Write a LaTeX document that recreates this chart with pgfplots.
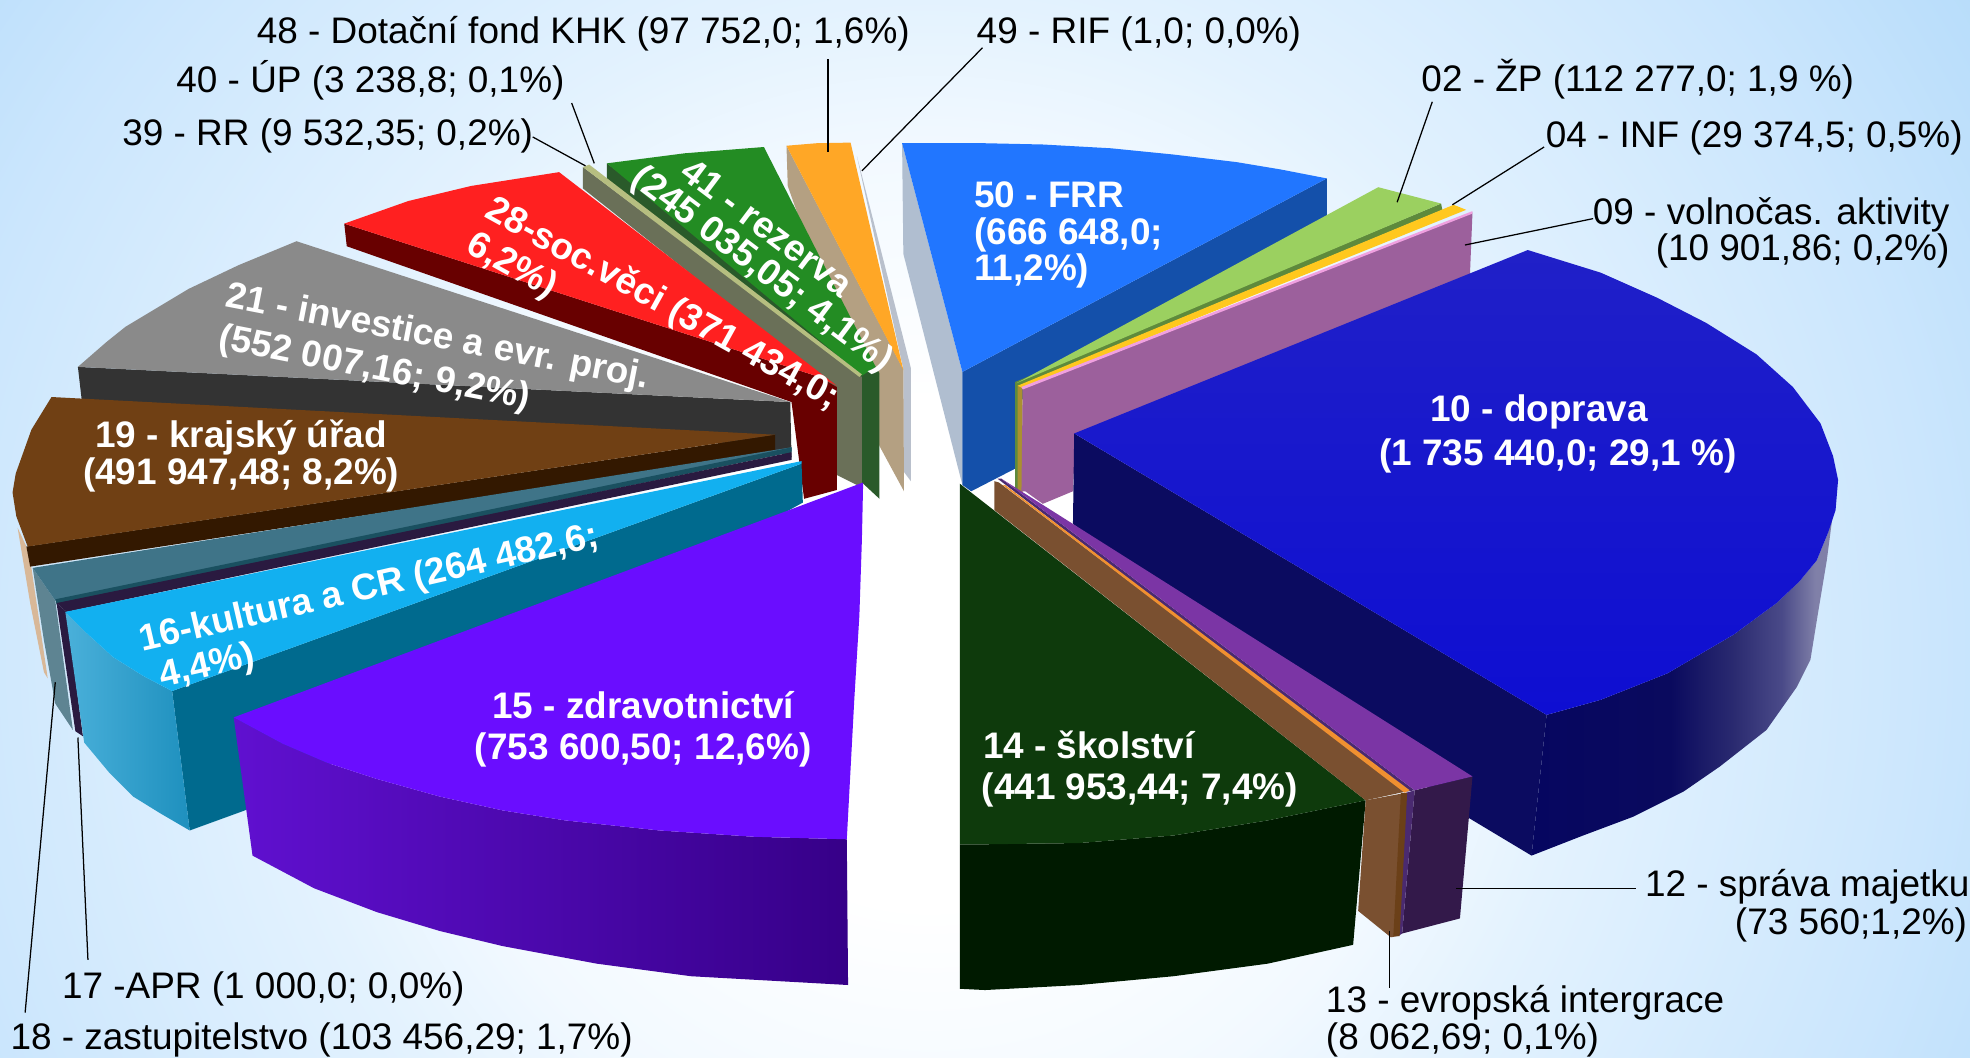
\documentclass[border=0pt]{standalone}
\usepackage{pgfplots}
\pgfplotsset{compat=1.18}
\usepackage{fontspec}
\setmainfont{Liberation Sans}
\definecolor{bga}{HTML}{FFFFFF}
\definecolor{bgb}{HTML}{F2F9FF}
\definecolor{bgc}{HTML}{E3F2FE}
\definecolor{bgd}{HTML}{CBE6FD}
\definecolor{bge}{HTML}{B6DCFA}
\pgfdeclareradialshading{bgsh}{\pgfpoint{0bp}{0bp}}{color(0bp)=(bga); color(5bp)=(bga); color(10bp)=(bgb); color(13bp)=(bgc); color(20bp)=(bgd); color(25bp)=(bge); color(50bp)=(bge)}
\definecolor{wa}{HTML}{060660}
\definecolor{wb}{HTML}{0A0A5E}
\definecolor{wc}{HTML}{2A2A70}
\definecolor{wd}{HTML}{4A4A88}
\definecolor{we}{HTML}{8080A8}
\pgfdeclarehorizontalshading{wallsh}{100bp}{color(0bp)=(wa); color(25bp)=(wa); color(47.8bp)=(wb); color(58bp)=(wc); color(66bp)=(wd); color(71.5bp)=(we); color(100bp)=(we)}
\definecolor{dtop}{HTML}{2020C8}
\definecolor{dbot}{HTML}{0E0ED2}
\newcommand{\pg}[2]{\definecolor{c#1}{HTML}{#1}\addplot[fill=c#1,draw=none,forget plot] coordinates {#2} --cycle;}
\newcommand{\pgs}[4]{\definecolor{c#1}{HTML}{#1}\definecolor{c#2}{HTML}{#2}\definecolor{c#3}{HTML}{#3}\addplot[left color=c#1,middle color=c#2,right color=c#3,draw=none,forget plot] coordinates {#4} --cycle;}
\newcommand{\ld}[1]{\addplot[black,line width=0.5pt,forget plot] coordinates {#1};}
\newcommand{\fn}{\fontsize{14.7}{17}\selectfont}
\newcommand{\fb}{\fontsize{14.7}{17}\selectfont\bfseries}
\newcommand{\bl}[3]{\node[anchor=west,inner sep=0pt,font=\fn] at (axis cs:#1,#2) {#3};}
\newcommand{\br}[3]{\node[anchor=east,inner sep=0pt,font=\fn] at (axis cs:#1,#2) {#3};}
\newcommand{\wl}[3]{\node[anchor=west,inner sep=0pt,font=\fb,text=white] at (axis cs:#1,#2) {#3};}
\newcommand{\wc}[4]{\node[anchor=center,inner sep=0pt,font=\fb,text=white,rotate=#4] at (axis cs:#1,#2) {#3};}
\begin{document}
\begin{tikzpicture}
\begin{scope}
\clip (0,0) rectangle (784pt,421pt);
\path[shading=bgsh] (370pt,161pt) circle (500pt);
\end{scope}
\begin{axis}[at={(0,0)},anchor=south west,scale only axis,width=784pt,height=421pt,
 xmin=0,xmax=1568,ymin=0,ymax=842,y dir=reverse,hide axis,clip=false]
% 49 RIF and 48 walls
\pg{B9C0CC}{(682,124)(725,293)(725,383)(719,375)(719,294)}
\pg{B4A082}{(626,116)(719,294)(719.5,391)(700,355)(627,148)}
\pg{FFA726}{(626,116)(650,114)(677,113.5)(719,294.5)}
% 41
\pg{2A5A2A}{(483,130)(697,292)(700,297)(700,397)(686,384)(686,310)(483,145)}
\pg{238C23}{(483,130)(545,122)(608,117)(697,292)(686,299)}
% 40 / 39
\pg{6A7058}{(464,133)(686,300)(686,388)(666,378)(666,310)(464,150)}
\pg{B6BE80}{(464,133)(469,131)(686,298)(684,300)}
% 28
\pg{680000}{(274,178)(652,300)(666,308)(666,390)(640,397)(630,320)(276,196)}
\pg{FF2020}{(274,178)(325,160)(375,148)(445,137)(666,307)(652,300)}
% 21
\pg{333333}{(62,292)(629,320)(630,364)(610,355)(65,318)}
\pg{8A8A8A}{(236,192)(190,211)(150,230)(125,245)(100,260)(85,272)(62,292)(629,320)}
% 19
\pg{D8B898}{(14,420)(21,435)(25,452)(38,540)(35,535)(24,480)}
\pg{331800}{(21,435)(617,346)(617,360)(24,451)}
\pg{704014}{(41,316)(25,342)(12.5,377)(10,392)(13,411)(22,435)(617,346)}
% 18
\pg{5E8492}{(26,452)(44,478)(58,581)(44,560)(35,510)}
\pg{3F7488}{(26,452)(44,478)(630,359)(630,356)}
% 17
\pg{1A5060}{(44,477)(630,356)(630,360)(45,481)}
\pg{2A1A40}{(45,480)(630,360)(630,366)(53,487)}
\pg{2A1A40}{(45,480)(53,487)(66,586)(60,582)}
% 16
\pg{006A8E}{(137,550)(638,369)(639,400)(195,645)(151,661)}
\pgs{4AB0DA}{2EA2CF}{1E90BE}{(52,487)(69,504)(90,523)(114,538)(137,550)(151,661)(127,647)(106,634)(87,615)(67,591)}
\pg{12B0F0}{(52,487)(69,504)(90,523)(114,538)(137,550)(638,369)(638,367)}
% 15
\pgs{6010D0}{4500A8}{360088}{(186,571)(225,592)(260,607)(300,620)(350,634)(400,645)(450,653)(525,661)(600,666)(674,668)(675,784)(550,777)(475,767)(400,753)(350,741)(300,726)(250,707)(201,681)}
\pg{6A0DFF}{(186,571)(687,384)(686,430)(684,490)(680,556)(674,668)(600,666)(525,661)(450,653)(400,645)(350,634)(300,620)(260,607)(225,592)}
% 50
\pg{B0BED0}{(718,114)(766,296)(766,386)(719,202)}
\pg{1450AA}{(766,296)(1056,142)(1056,180)(810,320)(808,373)(773,391)(766,386)}
\pg{2176FF}{(718,114)(784,114)(830,115)(884,118)(934,123)(984,129)(1020,135)(1056,142)(766,296)}
% 02
\pg{5E8A3C}{(1147,162)(1148,167)(811,307)(811,392)(808,392)(808,304)}
\pg{9BD060}{(1097,149)(1147,162)(809,305)}
% 04
\pg{AA9030}{(810,307)(814,309)(814,392)(810,392)}
\pg{FFC81E}{(1157,163)(1167,167)(814,309)(810,307)}
% 09
\pg{9C609C}{(814,309)(1172,169)(1170,218)(856,346)(854,391)(830,401)(816,391)(813,391)}
\pg{F0A0E0}{(1172,168)(1172,170)(814,310)(813,308)}
% 10
\pg{0B0B60}{(855,345)(1231,569)(1219,681)(1169,651)(854,417)}
\addplot[shade,shading=wallsh,draw=none,forget plot] coordinates {(1231,569)(1274,557)(1327,536)(1380,505)(1414,480)(1432,463)(1446,446)(1455,424)(1462,385)(1454,446)(1447,488)(1441,525)(1430,547)(1406,581)(1369,610)(1340,630)(1300,650)(1260,665)(1219,681)} --cycle;
\addplot[top color=dtop,bottom color=dbot,draw=none,forget plot] coordinates {(855,345)(1216,199)(1274,217)(1319,237)(1358,257)(1398,282)(1427,308)(1449,337)(1459,363)(1463,382)(1461,406)(1455,424)(1446,446)(1432,463)(1414,480)(1380,505)(1327,536)(1274,557)(1231,569)} --cycle;
% 14
\pg{001A00}{(764,672)(784,672)(859,671)(934,665)(1009,653)(1087,637)(1077,752)(1009,767)(934,777)(859,784)(784,788)(764,787)}
\pg{0E3A0C}{(764,385)(1087,637)(1009,653)(934,665)(859,671)(784,672)(764,672)}
% 12
\pg{33194A}{(1126,629)(1172,618)(1162,731)(1116,743)}
\pg{4A2A70}{(1119,631)(1126,629)(1116,743)(1113,745)}
\pg{4A2A70}{(794,381)(797,381)(1126,629)(1120,630)}
\pg{7B35A5}{(797,381)(1172,618)(1126,629)}
% 13
\pg{7A5030}{(791.5,383)(795,384)(1119,630)(1087,637)(791.5,406)}
\pg{7A5030}{(1087,637)(1119,631)(1113,745)(1107,746)(1081,725)}
\pg{6B4018}{(1115,631)(1120,631)(1114,745)(1109,745)}
\pg{F09030}{(798,386)(800,386)(1122,629)(1118,631)}
% leaders
\ld{(659,47)(659,121)}
\ld{(782,38)(686,136)}
\ld{(455,82)(473,130)}
\ld{(424,109)(466,132)}
\ld{(1140,81)(1112,161)}
\ld{(1229,117)(1156,163)}
\ld{(1268,174)(1166,195)}
\ld{(1302,707)(1159,707)}
\ld{(1106,786)(1106,741)}
\ld{(70,764)(62,587)}
\ld{(20,806)(44,543)}
% black labels
\bl{204}{27}{48 - Dotační fond KHK (97 752,0; 1,6\%)}
\bl{777}{27}{49 - RIF (1,0; 0,0\%)}
\bl{140}{64}{40 - ÚP (3 238,8; 0,1\%)}
\bl{97}{108}{39 - RR (9 532,35; 0,2\%)}
\bl{1131}{63}{02 - ŽP (112 277,0; 1,9 \%)}
\bl{1230}{110}{04 - INF (29 374,5; 0,5\%)}
\br{1552}{171}{09 - volnočas. aktivity}
\br{1552}{200}{(10 901,86; 0,2\%)}
\bl{1309}{706}{12 - správa majetku}
\br{1566}{736}{(73 560;1,2\%)}
\bl{1055}{798}{13 - evropská intergrace}
\bl{1055}{828}{(8 062,69; 0,1\%)}
\bl{49}{787}{17 -APR (1 000,0; 0,0\%)}
\bl{8}{828}{18 - zastupitelstvo (103 456,29; 1,7\%)}
% white labels
\wl{775}{155}{50 - FRR}
\wl{775}{187}{(666 648,0;}
\wl{775}{216}{11,2\%)}
\wc{1225}{328}{10 - doprava}{0}
\wc{1240}{363}{(1 735 440,0; 29,1 \%)}{0}
\wc{512}{561}{15 - zdravotnictví}{0}
\wc{512}{597}{(753 600,50; 12,6\%)}{0}
\wl{782}{593}{14 - školství}
\wl{781}{629}{(441 953,44; 7,4\%)}
\wc{192}{348}{19 - krajský úřad}{0}
\wc{192}{378}{(491 947,48; 8,2\%)}{0}
\wc{348}{269}{21 - investice a evr. proj.}{-11}
\wc{298}{294}{(552 007,16; 9,2\%)}{-11}
\wc{527}{242}{28-soc.věci (371 434,0;}{-29}
\wc{407}{212}{6,2\%)}{-29}
\wc{611}{181}{41 - rezerva}{-37}
\wc{606}{215}{(245 035,05; 4,1\%)}{-37}
\wc{294}{469}{16-kultura a CR (264 482,6;}{13}
\wc{165}{531}{4,4\%)}{13}
\end{axis}
\pgfresetboundingbox
\path[use as bounding box] (0,0) rectangle (784pt,421pt);
\end{tikzpicture}
\end{document}
